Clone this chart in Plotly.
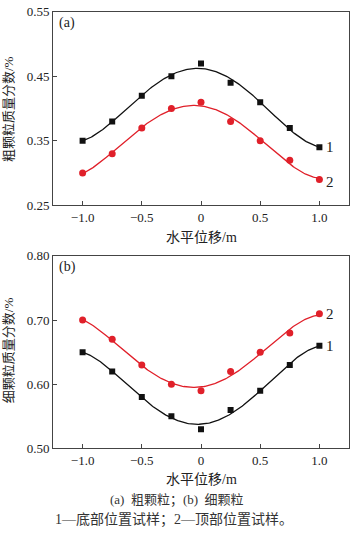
import numpy as np
import plotly.graph_objects as go

# Data
x_pos = [-1.0, -0.75, -0.5, -0.25, 0.0, 0.25, 0.5, 0.75, 1.0]
coarse_bottom = [0.35, 0.38, 0.42, 0.45, 0.47, 0.44, 0.41, 0.37, 0.34]   # 1
coarse_top = [0.30, 0.33, 0.37, 0.40, 0.41, 0.38, 0.35, 0.32, 0.29]      # 2
fine_bottom = [0.65, 0.62, 0.58, 0.55, 0.53, 0.56, 0.59, 0.63, 0.66]     # 1
fine_top = [0.70, 0.67, 0.63, 0.60, 0.59, 0.62, 0.65, 0.68, 0.71]        # 2
x_tickvals = [-1.0, -0.5, 0, 0.5, 1.0]
x_ticktext = ["\u22121.0", "\u22120.5", "0", "0.5", "1.0"]
y_ticks_a = [0.25, 0.35, 0.45, 0.55]
y_ticks_b = [0.50, 0.60, 0.70, 0.80]

BLACK = "#111111"
RED = "#e0202a"
FONT = "Liberation Serif, Noto Sans CJK SC, serif"
W, H = 350, 542

def fit(xs, ys):
    c = np.polyfit(xs, ys, 4)
    xf = np.linspace(min(xs), max(xs), 200)
    return xf, np.polyval(c, xf)

fig = go.Figure()

def add_series(xs, ys, color, symbol, size, xa, ya):
    xf, yf = fit(xs, ys)
    fig.add_trace(go.Scatter(x=xf, y=yf, mode="lines", line=dict(color=color, width=1.3),
                             xaxis=xa, yaxis=ya, showlegend=False, hoverinfo="skip"))
    fig.add_trace(go.Scatter(x=xs, y=ys, mode="markers",
                             marker=dict(color=color, symbol=symbol, size=size, line=dict(width=0)),
                             xaxis=xa, yaxis=ya, showlegend=False))

add_series(x_pos, coarse_bottom, BLACK, "square", 6, "x", "y")
add_series(x_pos, coarse_top, RED, "circle", 7, "x", "y")
add_series(x_pos, fine_bottom, BLACK, "square", 6, "x2", "y2")
add_series(x_pos, fine_top, RED, "circle", 7, "x2", "y2")

def px_x(p):
    return p / W

def px_y(p):
    return 1 - p / H

axis_common = dict(showline=True, linecolor="#444444", linewidth=1, mirror=True,
                   ticks="inside", ticklen=4, tickcolor="#444444", showgrid=False,
                   zeroline=False, tickfont=dict(family=FONT, size=13, color="#222222"))

fig.update_layout(
    width=W, height=H, margin=dict(l=0, r=0, t=0, b=0),
    paper_bgcolor="white", plot_bgcolor="white",
    xaxis=dict(domain=[px_x(53), px_x(349)], range=[-1.25, 1.25], anchor="y",
               tickvals=x_tickvals, ticktext=x_ticktext, **axis_common),
    yaxis=dict(domain=[px_y(204), px_y(5)], range=[0.25, 0.55], anchor="x",
               tickvals=y_ticks_a, tickformat=".2f", **axis_common),
    xaxis2=dict(domain=[px_x(53), px_x(349)], range=[-1.25, 1.25], anchor="y2",
                tickvals=x_tickvals, ticktext=x_ticktext, **axis_common),
    yaxis2=dict(domain=[px_y(454), px_y(256)], range=[0.50, 0.80], anchor="x2",
                tickvals=y_ticks_b, tickformat=".2f", **axis_common),
    font=dict(family=FONT, color="#222222"),
)

ann = []
def label(text, xref, yref, x, y, **kw):
    d = dict(text=text, xref=xref, yref=yref, x=x, y=y, showarrow=False,
             xanchor="center", yanchor="middle",
             font=dict(family=FONT, size=kw.pop("size", 14), color=kw.pop("color", "#222222")))
    d.update(kw)
    ann.append(d)

# curve labels
label("1", "x", "y", 1.0, coarse_bottom[-1], xanchor="left", xshift=5, size=15)
label("2", "x", "y", 1.0, coarse_top[-1], xanchor="left", xshift=5, yshift=-2, size=15)
label("2", "x2", "y2", 1.0, fine_top[-1], xanchor="left", xshift=5, size=15)
label("1", "x2", "y2", 1.0, fine_bottom[-1], xanchor="left", xshift=5, size=15)

# panel labels
label("(a)", "paper", "paper", px_x(57), px_y(16), xanchor="left", size=14)
label("(b)", "paper", "paper", px_x(57), px_y(267), xanchor="left", size=14)

# axis titles
label("水平位移/m", "paper", "paper", px_x(201), px_y(237), size=14)
label("水平位移/m", "paper", "paper", px_x(201), px_y(486), size=14)
label("粗颗粒质量分数/%", "paper", "paper", px_x(8), px_y(105), textangle=-90, size=13)
label("细颗粒质量分数/%", "paper", "paper", px_x(8), px_y(353), textangle=-90, size=13)

# caption
label("(a)  粗颗粒；(b)  细颗粒", "paper", "paper", px_x(177), px_y(507), size=13, color="#333333")
label("1—底部位置试样；2—顶部位置试样。", "paper", "paper", px_x(174), px_y(528), size=14, color="#333333")

fig.update_layout(annotations=ann)
fig.write_html("out.html")
